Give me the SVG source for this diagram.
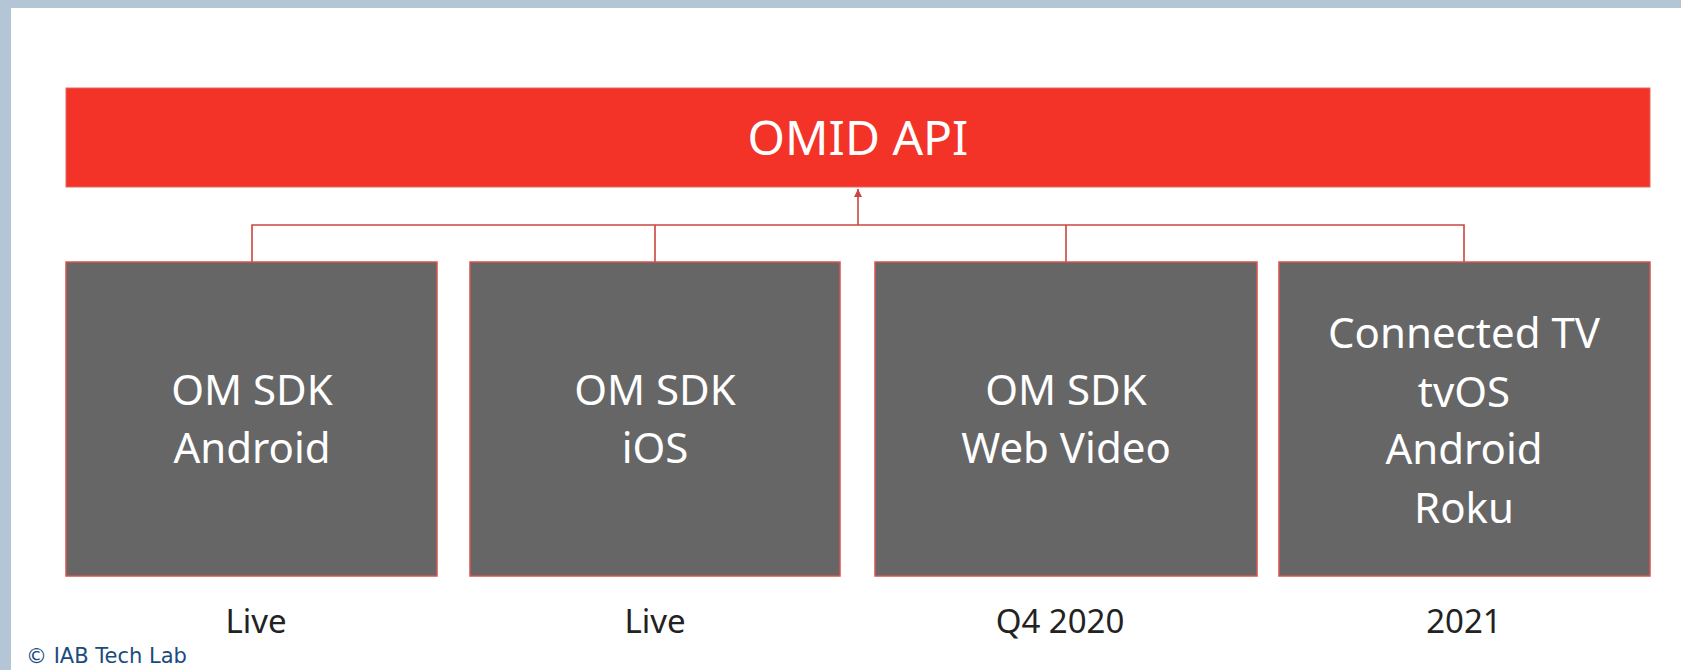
<svg xmlns="http://www.w3.org/2000/svg" width="1681" height="670" viewBox="0 0 1681 670">
  <style>
    .box { fill: #666666; stroke: #d9534f; stroke-width: 1.5; }
    .bar { fill: #f33328; stroke: #e06b63; stroke-width: 1; }
    .wt { fill: #ffffff; font-family: "Noto Sans", "Open Sans", sans-serif; font-size: 42px; text-anchor: middle; }
    .api { fill: #ffffff; font-family: "Noto Sans", "Open Sans", sans-serif; font-size: 48px; text-anchor: middle; }
    .lbl { fill: #222222; font-family: "Noto Sans", "Open Sans", sans-serif; font-size: 33px; text-anchor: middle; }
    .conn { fill: none; stroke: #c9473f; stroke-width: 1.6; }
    .copy { fill: #1b4a7c; font-family: "DejaVu Sans", Verdana, sans-serif; font-size: 21px; }
  </style>
  <defs>
    <marker id="arr" viewBox="0 0 10 10" refX="10" refY="5" markerWidth="8" markerHeight="8" markerUnits="userSpaceOnUse" orient="auto">
      <path d="M0,0 L10,5 L0,10 z" fill="#c9473f"/>
    </marker>
  </defs>
  <rect x="0" y="0" width="1681" height="670" fill="#ffffff"/>
  <rect x="0" y="0" width="1681" height="8" fill="#b4c6d6"/>
  <rect x="0" y="0" width="11" height="670" fill="#b4c6d6"/>

  <g id="connectors">
    <path class="conn" d="M252,262 V225 H1464 V262 M655,262 V225 M1066,262 V225"/>
    <line class="conn" x1="858" y1="225" x2="858" y2="189" marker-end="url(#arr)"/>
  </g>

  <g id="omid-api">
    <rect class="bar" x="66" y="88" width="1584" height="99"/>
    <text class="api" x="858" y="155">OMID API</text>
  </g>

  <g id="node-android">
    <rect class="box" x="66" y="262" width="371" height="314"/>
    <text class="wt" x="252" y="405">OM SDK</text>
    <text class="wt" x="252" y="463">Android</text>
  </g>
  <g id="node-ios">
    <rect class="box" x="470" y="262" width="370" height="314"/>
    <text class="wt" x="655" y="405">OM SDK</text>
    <text class="wt" x="655" y="463">iOS</text>
  </g>
  <g id="node-web">
    <rect class="box" x="875" y="262" width="382" height="314"/>
    <text class="wt" x="1066" y="405">OM SDK</text>
    <text class="wt" x="1066" y="463">Web Video</text>
  </g>
  <g id="node-ctv">
    <rect class="box" x="1279" y="262" width="371" height="314"/>
    <text class="wt" x="1464" y="348">Connected TV</text>
    <text class="wt" x="1464" y="407">tvOS</text>
    <text class="wt" x="1464" y="464">Android</text>
    <text class="wt" x="1464" y="523">Roku</text>
  </g>

  <g id="labels">
    <text class="lbl" x="256" y="633">Live</text>
    <text class="lbl" x="655" y="633">Live</text>
    <text class="lbl" x="1060" y="633">Q4 2020</text>
    <text class="lbl" x="1464" y="633">2021</text>
  </g>

  <text class="copy" x="26" y="663">© IAB Tech Lab</text>
</svg>
